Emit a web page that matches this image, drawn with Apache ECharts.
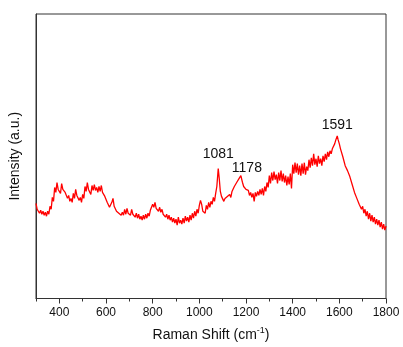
<!DOCTYPE html>
<html>
<head>
<meta charset="utf-8">
<script src="https://cdn.jsdelivr.net/npm/echarts@6/dist/echarts.min.js"></script>
<style>
  html, body { margin: 0; padding: 0; background: #fff; }
  #chart { width: 403px; height: 347px; }
</style>
</head>
<body>
<div id="chart"></div>
<script>
// Raman shift (cm-1) sampling positions
const shifts = [
  300,305,310,315,320,325,330,335,340,345,350,355,360,365,370,375,380,385,390,395,
  400,405,410,415,420,425,430,435,440,445,450,455,460,465,470,475,480,485,490,495,
  500,505,510,515,520,525,530,535,540,545,550,555,560,565,570,575,580,585,590,595,
  600,605,610,615,620,625,630,635,640,645,650,655,660,665,670,675,680,685,690,695,
  700,705,710,715,720,725,730,735,740,745,750,755,760,765,770,775,780,785,790,795,
  800,805,810,815,820,825,830,835,840,845,850,855,860,865,870,875,880,885,890,895,
  900,905,910,915,920,925,930,935,940,945,950,955,960,965,970,975,980,985,990,995,
  1000,1005,1010,1015,1020,1025,1030,1035,1040,1045,1050,1055,1060,1065,1070,1075,
  1080,1081,1085,1090,1095,1100,1105,1110,1115,1120,1125,1130,1135,1140,1145,1150,
  1155,1160,1165,1170,1175,1178,1182,1185,1190,1195,1200,1205,1210,1215,1220,1225,
  1230,1235,1240,1245,1250,1255,1260,1265,1270,1275,1280,1285,1290,1295,1300,1305,
  1310,1315,1320,1325,1330,1335,1340,1345,1350,1355,1360,1365,1370,1375,1380,1385,
  1390,1395,1400,1405,1410,1415,1420,1425,1430,1435,1440,1445,1450,1455,1460,1465,
  1470,1475,1480,1485,1490,1495,1500,1505,1510,1515,1520,1525,1530,1535,1540,1545,
  1550,1555,1560,1565,1570,1575,1580,1585,1591,1595,1600,1605,1610,1615,1620,1625,
  1630,1635,1640,1645,1650,1655,1660,1665,1670,1675,1680,1685,1690,1695,1700,1705,
  1710,1715,1720,1725,1730,1735,1740,1745,1750,1755,1760,1765,1770,1775,1780,1785,
  1790,1795,1800
];

// Measured intensity (arbitrary units)
const intensity = [
  96,90,92,86,89,85,88,84,87,83,88,85,93,90,102,98,112,107,117,110,
  111,106,116,110,112,107,108,101,104,98,101,97,106,101,110,104,104,99,102,97,
  105,101,113,108,117,110,110,105,114,109,115,109,112,107,113,108,114,107,108,103,
  101,97,96,92,94,97,101,93,94,88,90,86,88,84,87,84,90,85,91,86,
  88,84,90,85,87,82,86,81,85,80,83,79,84,80,85,81,86,83,89,90,
  95,92,97,91,93,88,92,87,90,85,87,82,85,80,84,79,82,77,81,76,
  80,74,82,76,79,75,81,76,83,78,82,77,84,79,86,81,88,83,90,86,
  94,99,95,88,90,86,94,90,97,92,98,95,102,98,106,113,
  128,131,122,108,103,101,98,101,99,103,101,105,102,108,106,113,
  111,117,116,121,122,124,120,117,113,112,110,108,109,104,107,102,
  106,98,107,103,108,104,110,105,111,104,113,108,117,112,124,116,
  127,119,128,120,125,116,127,119,129,118,126,117,124,114,123,115,
  126,111,135,126,137,127,136,125,134,124,136,126,137,125,133,129,
  140,132,142,134,146,135,141,133,144,136,141,134,144,138,146,140,
  148,143,149,146,151,150,156,160,164,160,156,151,149,143,141,134,
  136,129,130,123,122,115,114,107,108,101,103,95,97,90,93,86,
  90,83,88,80,86,78,84,77,82,75,80,74,79,72,77,70,
  75,69,73
];

// Annotated band positions
const peaks = [1081, 1178, 1591];
const peakOffsets = { 1081: [0, 0], 1178: [6, 8], 1591: [0, 4] };

const majorTicks = [400, 600, 800, 1000, 1200, 1400, 1600, 1800];
const minorTicks = [300, 500, 700, 900, 1100, 1300, 1500, 1700];

const seriesData = shifts.map((s, i) => {
  const item = { value: [s, intensity[i]] };
  if (peaks.includes(s)) {
    item.label = {
      show: true,
      position: 'top',
      distance: 8,
      offset: peakOffsets[s],
      formatter: String(s),
      color: '#111',
      fontSize: 14,
      fontFamily: 'Liberation Sans'
    };
  }
  return item;
});

const chart = echarts.init(document.getElementById('chart'), null, { renderer: 'canvas' });

chart.setOption({
  animation: false,
  backgroundColor: '#fff',
  grid: {
    left: 35, right: 17, top: 14, bottom: 46,
    show: true, borderColor: '#333', borderWidth: 1, backgroundColor: 'transparent'
  },
  xAxis: [
    {
      type: 'value', min: 300, max: 1800,
      axisLine: { show: true, lineStyle: { color: '#333', width: 1 } },
      axisTick: { show: true, length: 5, customValues: majorTicks, lineStyle: { color: '#333' } },
      axisLabel: {
        customValues: majorTicks, color: '#111', fontSize: 12,
        fontFamily: 'Liberation Sans', margin: 8,
        formatter: v => String(v)
      },
      splitLine: { show: false },
      name: '{t|Raman Shift (cm}{s|-1}{t|)}',
      nameLocation: 'middle',
      nameGap: 28,
      nameTextStyle: {
        rich: {
          t: { fontSize: 14, fontFamily: 'Liberation Sans', color: '#111' },
          s: { fontSize: 9, fontFamily: 'Liberation Sans', color: '#111', verticalAlign: 'top', padding: [0, 0, 8, 0] }
        }
      }
    },
    {
      type: 'value', min: 300, max: 1800, position: 'bottom',
      axisLine: { show: false },
      axisTick: { show: true, length: 3, customValues: minorTicks, lineStyle: { color: '#333' } },
      axisLabel: { show: false },
      splitLine: { show: false }
    }
  ],
  yAxis: {
    type: 'value', min: 0, max: 287,
    axisLine: { show: true, lineStyle: { color: '#333', width: 1 } },
    axisTick: { show: false },
    axisLabel: { show: false },
    splitLine: { show: false },
    name: 'Intensity (a.u.)',
    nameLocation: 'middle',
    nameGap: 14,
    nameTextStyle: { fontSize: 14, fontFamily: 'Liberation Sans', color: '#111' }
  },
  series: [{
    type: 'line',
    xAxisIndex: 0,
    data: seriesData,
    showSymbol: true,
    symbol: 'circle',
    symbolSize: 0,
    lineStyle: { color: '#ff0000', width: 1.3 },
    itemStyle: { color: '#ff0000' }
  }]
});
</script>
</body>
</html>
